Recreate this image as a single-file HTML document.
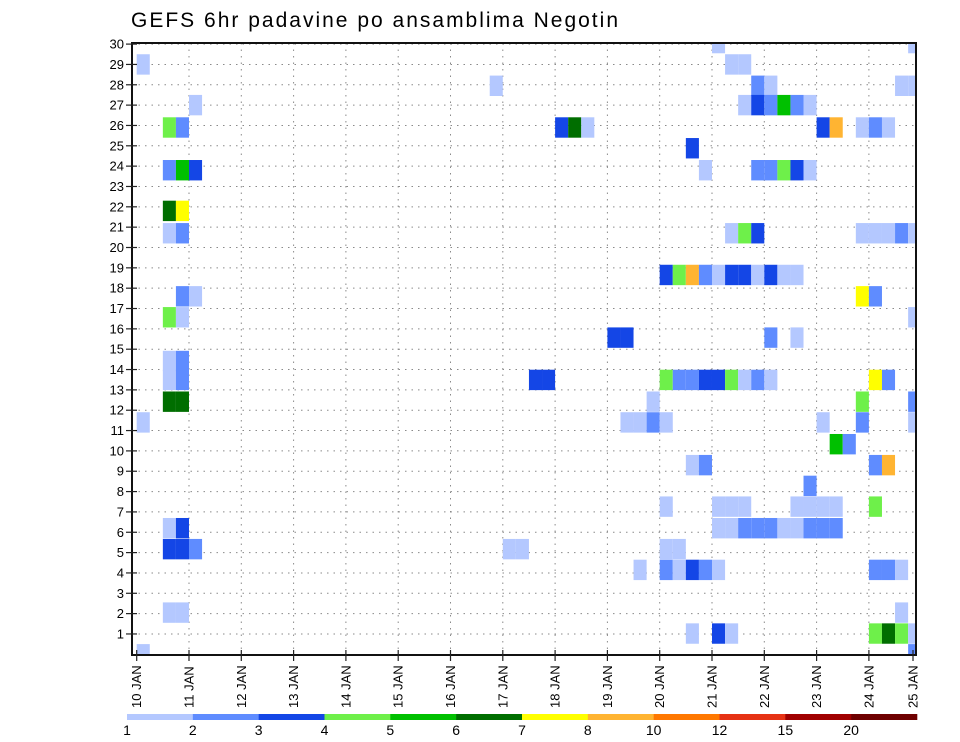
<!DOCTYPE html>
<html><head><meta charset="utf-8">
<style>
html,body{margin:0;padding:0;background:#fff;}
svg{display:block;font-family:"Liberation Sans",sans-serif;}
</style></head>
<body>
<svg id="chart" width="960" height="742" viewBox="0 0 960 742" xmlns="http://www.w3.org/2000/svg">
<text x="131" y="27" font-size="21" fill="#000" textLength="487" lengthAdjust="spacing">GEFS 6hr padavine po ansamblima Negotin</text>
<g id="grid"></g>
<g id="cells" clip-path="url(#plotclip)"></g>
<g id="axes"></g>
<g id="legend"></g>
<defs><clipPath id="plotclip"><rect x="132" y="43" width="784" height="612"/></clipPath></defs>
</svg>
<script>
// ---- data ----
const dayLabels = ["10 JAN","11 JAN","12 JAN","13 JAN","14 JAN","15 JAN","16 JAN","17 JAN","18 JAN","19 JAN","20 JAN","21 JAN","22 JAN","23 JAN","24 JAN","25 JAN"];
const memberTicks = [1,2,3,4,5,6,7,8,9,10,11,12,13,14,15,16,17,18,19,20,21,22,23,24,25,26,27,28,29,30];
const legendBounds = [1,2,3,4,5,6,7,8,10,12,15,20];
const legendColors = ["#b4c8ff","#5f8cff","#1446e6","#6ef04a","#00c000","#006e00","#ffff00","#ffb432","#ff7800","#e63214","#a00000","#6e0000"];
// each cell: 6-hour step index, member row position, precipitation (mm)
const cellStep = [0,45,46, 44,59, 27,47,48,58,59, 4,46,47,48,49,50,51,
 2,3,32,33,34,52,53,55,56,57, 42, 2,3,4,43,47,48,49,50,51, 2,3,
 2,3,45,46,47,55,56,57,58,59,
 40,41,42,43,44,45,46,47,48,49,50, 3,4,55,56, 2,3,59, 36,37,48,50, 2,3,
 2,3,30,31,40,41,42,43,44,45,46,47,48,56,57,
 2,3,39,55,59, 0,37,38,39,40,52,55,59, 53,54, 42,43,56,57, 51,
 40,44,45,46,50,51,52,53,56,
 2,3,44,45,46,47,48,49,50,51,52,53,
 2,3,4,28,29,40,41, 38,40,41,42,43,44,56,57,58, 2,3,58,
 42,44,45,56,57,58,59, 0,59];
const cellRow = [29,29,29, 30.05,30.05, 27.95,27.95,27.95,27.95,27.95, 27,27,27,27,27,27,27,
 25.9,25.9,25.9,25.9,25.9,25.9,25.9,25.9,25.9,25.9, 24.88, 23.8,23.8,23.8,23.8,23.8,23.8,23.8,23.8,23.8, 21.8,21.8,
 20.7,20.7,20.7,20.7,20.7,20.7,20.7,20.7,20.7,20.7,
 18.65,18.65,18.65,18.65,18.65,18.65,18.65,18.65,18.65,18.65,18.65, 17.6,17.6,17.6,17.6, 16.57,16.57,16.57, 15.57,15.57,15.57,15.57, 14.42,14.42,
 13.49,13.49,13.49,13.49,13.49,13.49,13.49,13.49,13.49,13.49,13.49,13.49,13.49,13.49,13.49,
 12.42,12.42,12.42,12.42,12.42, 11.4,11.4,11.4,11.4,11.4,11.4,11.4,11.4, 10.33,10.33, 9.3,9.3,9.3,9.3, 8.28,
 7.26,7.26,7.26,7.26,7.26,7.26,7.26,7.26,7.26,
 6.2,6.2,6.2,6.2,6.2,6.2,6.2,6.2,6.2,6.2,6.2,6.2,
 5.17,5.17,5.17,5.17,5.17,5.17,5.17, 4.15,4.15,4.15,4.15,4.15,4.15,4.15,4.15,4.15, 2.05,2.05,2.05,
 1.02,1.02,1.02,1.02,1.02,1.02,1.02, 0,0];
const cellValue = [1.5,1.5,1.5, 1.5,1.5, 1.5,2.5,1.5,1.5,1.5, 1.5,1.5,3.5,2.5,5.5,2.5,1.5,
 4.5,2.5,3.5,6.5,1.5,3.5,9,1.5,2.5,1.5, 3.5, 2.5,5.5,3.5,1.5,2.5,2.5,4.5,3.5,1.5, 6.5,7.5,
 1.5,2.5,1.5,4.5,3.5,1.5,1.5,1.5,2.5,1.5,
 3.5,4.5,9,2.5,1.5,3.5,3.5,1.5,3.5,1.5,1.5, 2.5,1.5,7.5,2.5, 4.5,1.5,1.5, 3.5,3.5,2.5,1.5, 1.5,2.5,
 1.5,2.5,3.5,3.5,4.5,2.5,2.5,3.5,3.5,4.5,1.5,2.5,1.5,7.5,2.5,
 6.5,6.5,1.5,4.5,2.5, 1.5,1.5,1.5,2.5,1.5,1.5,2.5,1.5, 5.5,2.5, 1.5,2.5,2.5,9, 2.5,
 1.5,1.5,1.5,1.5,1.5,1.5,1.5,1.5,4.5,
 1.5,3.5,1.5,1.5,2.5,2.5,2.5,1.5,1.5,2.5,2.5,2.5,
 3.5,3.5,2.5,1.5,1.5,1.5,1.5, 1.5,2.5,1.5,3.5,2.5,1.5,2.5,2.5,1.5, 1.5,1.5,1.5,
 1.5,3.5,1.5,4.5,6.5,4.5,1.5, 1.5,2.5];

// ---- scales ----
const NS="http://www.w3.org/2000/svg";
const X0=136.7, DAYW=52.3, PL=132, PR=916, PT=43, PB=655;
const xDay = d => X0 + d*DAYW;
const xStep = k => xDay(k*0.25);
const yRow = m => 654.3 - 20.34*m;
const ROWH = 20.4;
function colorFor(v){ let c=null; for(let i=0;i<legendBounds.length;i++){ if(v>=legendBounds[i]) c=legendColors[i]; } return c; }
function mk(tag, attrs, parent){ const e=document.createElementNS(NS,tag); for(const k in attrs) e.setAttribute(k,attrs[k]); parent.appendChild(e); return e; }

const grid=document.getElementById('grid'), cells=document.getElementById('cells'), axes=document.getElementById('axes'), legend=document.getElementById('legend');

// grid
memberTicks.forEach(m=>{
  const l=mk('line',{x1:PL,x2:PR,y1:yRow(m),y2:yRow(m),stroke:'#8a8a8a','stroke-width':1,'stroke-dasharray':'1.5,5'},grid);
  
  
});
dayLabels.forEach((d,i)=>{
  if(i===0||i>=15) return;
  const l=mk('line',{x1:xDay(i),x2:xDay(i),y1:PT,y2:PB,stroke:'#8a8a8a','stroke-width':1,'stroke-dasharray':'1.5,5'},grid);
  
  
});

// cells
for(let i=0;i<cellStep.length;i++){
  const c=colorFor(cellValue[i]); if(!c) continue;
  const r=mk('rect',{x:xStep(cellStep[i]).toFixed(2),y:(yRow(cellRow[i])-ROWH/2).toFixed(2),width:(DAYW/4).toFixed(2),height:ROWH,fill:c},cells);
  
  
}

// frame
const fr=mk('rect',{x:PL,y:PT,width:PR-PL,height:PB-PT,fill:'none',stroke:'#111','stroke-width':2},axes);



// y axis
memberTicks.forEach(m=>{
  const y=yRow(m);
  const t=mk('line',{x1:126,x2:137,y1:y,y2:y,stroke:'#222','stroke-width':1.2},axes);
  
  
  const tx=mk('text',{x:124,y:y+4.5,'font-size':13,'text-anchor':'end',fill:'#000'},axes);
  tx.textContent=m;
  
  
});

// x axis
dayLabels.forEach((d,i)=>{
  const x = i===15 ? 913 : xDay(i);
  const t=mk('line',{x1:x,x2:x,y1:PB-5,y2:PB+6,stroke:'#222','stroke-width':1.2},axes);
  
  
  const tx=mk('text',{x:0,y:0,'font-size':13,'text-anchor':'start',fill:'#000',transform:`translate(${x+4.5},708) rotate(-90)`},axes);
  tx.textContent=d;
  
  
});

// colorbar
const LB0=127, LB1=917, segW=(LB1-LB0)/legendColors.length;
legendColors.forEach((c,i)=>{
  const r=mk('rect',{x:LB0+i*segW,y:714,width:segW+0.3,height:6,fill:c},legend);
  
  
});
legendBounds.forEach((b,i)=>{
  const tx=mk('text',{x:LB0+i*segW,y:735,'font-size':14,'text-anchor':'middle',fill:'#000'},legend);
  tx.textContent=b;
  
  
});
</script>
</body></html>
